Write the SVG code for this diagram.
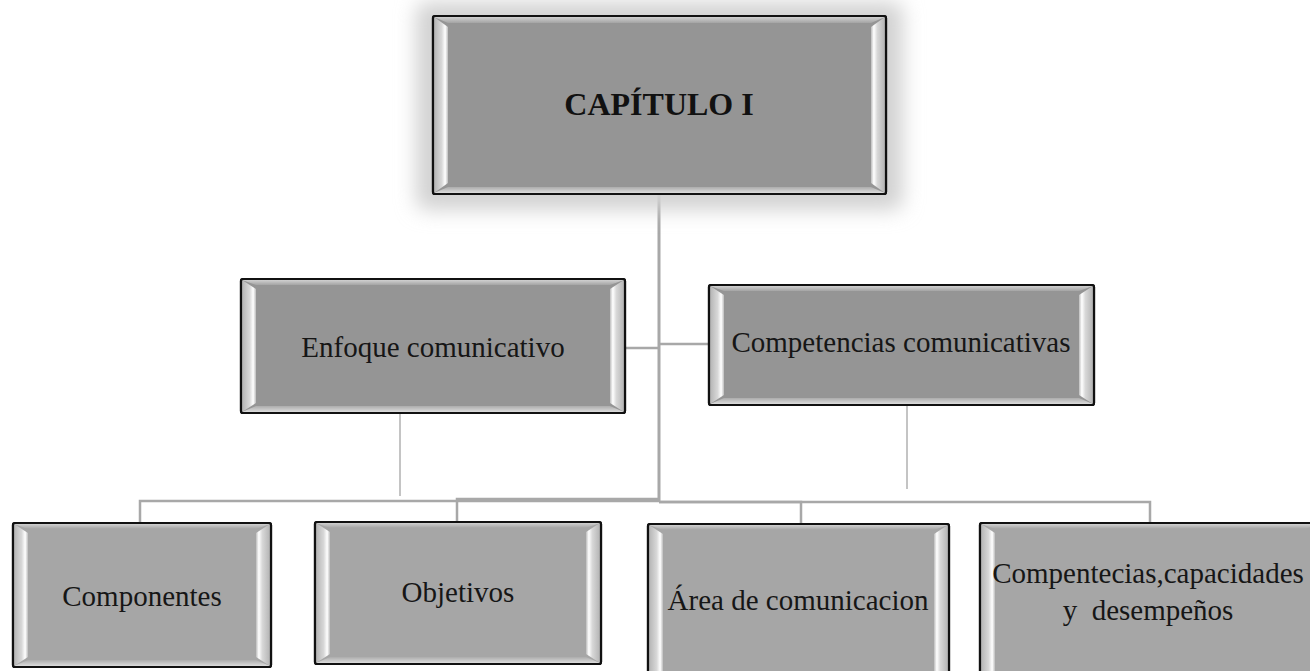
<svg xmlns="http://www.w3.org/2000/svg" width="1310" height="671" viewBox="0 0 1310 671">
<style>
.face{stroke:#111;stroke-width:2.2}
.dark{fill:#959595}
.light{fill:#a6a6a6}
.lbl{font-family:"Liberation Serif","Times New Roman",serif;font-size:29px;fill:#161616;text-anchor:middle;white-space:pre}
.title{font-family:"Liberation Serif","Times New Roman",serif;font-size:32px;font-weight:bold;fill:#111;text-anchor:middle}
.con{fill:none;stroke:#a8a8a8;stroke-width:2.5}
.thin{fill:none;stroke:#b0b0b0;stroke-width:1.5}
.trunk{fill:none;stroke:#a8a8a8;stroke-width:3}
</style>
<defs>
<linearGradient id="gl" x1="0" y1="0" x2="1" y2="0">
<stop offset="0" stop-color="#b4b4b4"/><stop offset="0.55" stop-color="#d8d8d8"/><stop offset="0.8" stop-color="#ffffff"/><stop offset="1" stop-color="#bcbcbc"/>
</linearGradient>
<linearGradient id="gr" x1="1" y1="0" x2="0" y2="0">
<stop offset="0" stop-color="#b4b4b4"/><stop offset="0.55" stop-color="#d8d8d8"/><stop offset="0.8" stop-color="#ffffff"/><stop offset="1" stop-color="#bcbcbc"/>
</linearGradient>
<linearGradient id="gt" x1="0" y1="0" x2="0" y2="1">
<stop offset="0" stop-color="#d0d0d0"/><stop offset="1" stop-color="#a4a4a4"/>
</linearGradient>
<linearGradient id="gb" x1="0" y1="0" x2="0" y2="1">
<stop offset="0" stop-color="#acacac"/><stop offset="1" stop-color="#dcdcdc"/>
</linearGradient>
<filter id="glow" x="-20%" y="-30%" width="140%" height="160%">
<feGaussianBlur stdDeviation="10"/>
</filter>
</defs>

<g id="connectors">
<path class="trunk" d="M659,194 V501"/>
<path class="con" d="M625,348 H659"/>
<path class="con" d="M659,344 H709"/>
<path class="thin" d="M400,413 V496"/>
<path class="thin" d="M907,405 V489"/>
<path class="con" d="M659,501 H140 V523"/>
<path class="con" d="M659,499 H457 V522"/>
<path class="con" d="M659,502 H801 V524"/>
<path class="con" d="M659,502 H1150 V523"/>
</g>

<g id="node-capitulo">
<rect x="416" y="2" width="487" height="208" rx="10" fill="#d2d2d2" filter="url(#glow)"/>
<rect class="face dark" x="433" y="16" width="453" height="178" rx="2"/>
<polygon points="434,17 448,27 448,183 434,193" fill="url(#gl)"/>
<polygon points="885,17 871,27 871,183 885,193" fill="url(#gr)"/>
<polygon points="434,17 885,17 871,23 448,23" fill="url(#gt)"/>
<polygon points="434,193 885,193 871,187 448,187" fill="url(#gb)"/>
<rect x="433" y="16" width="453" height="178" rx="2" fill="none" stroke="#111" stroke-width="2.2"/>
<text class="title" x="659" y="115">CAPÍTULO I</text>
</g>

<g id="node-enfoque">
<rect class="face dark" x="241" y="279" width="384" height="134" rx="2"/>
<polygon points="242,280 256,289 256,403 242,412" fill="url(#gl)"/>
<polygon points="624,280 610,289 610,403 624,412" fill="url(#gr)"/>
<polygon points="242,280 624,280 610,285 256,285" fill="url(#gt)"/>
<polygon points="242,412 624,412 610,406 256,406" fill="url(#gb)"/>
<rect x="241" y="279" width="384" height="134" rx="2" fill="none" stroke="#111" stroke-width="2.2"/>
<text class="lbl" x="433" y="357">Enfoque comunicativo</text>
</g>

<g id="node-competencias">
<rect class="face dark" x="709" y="285" width="385" height="120" rx="2"/>
<polygon points="710,286 724,295 724,395 710,404" fill="url(#gl)"/>
<polygon points="1093,286 1079,295 1079,395 1093,404" fill="url(#gr)"/>
<polygon points="710,286 1093,286 1079,291 724,291" fill="url(#gt)"/>
<polygon points="710,404 1093,404 1079,398 724,398" fill="url(#gb)"/>
<rect x="709" y="285" width="385" height="120" rx="2" fill="none" stroke="#111" stroke-width="2.2"/>
<text class="lbl" x="901" y="352">Competencias comunicativas</text>
</g>

<g id="node-componentes">
<rect class="face light" x="13" y="523" width="258" height="144" rx="2"/>
<polygon points="14,524 28,533 28,657 14,666" fill="url(#gl)"/>
<polygon points="270,524 256,533 256,657 270,666" fill="url(#gr)"/>
<polygon points="14,524 270,524 256,529 28,529" fill="url(#gt)"/>
<polygon points="14,666 270,666 256,660 28,660" fill="url(#gb)"/>
<rect x="13" y="523" width="258" height="144" rx="2" fill="none" stroke="#111" stroke-width="2.2"/>
<text class="lbl" x="142" y="606">Componentes</text>
</g>

<g id="node-objetivos">
<rect class="face light" x="315" y="522" width="286" height="142" rx="2"/>
<polygon points="316,523 330,532 330,654 316,663" fill="url(#gl)"/>
<polygon points="600,523 586,532 586,654 600,663" fill="url(#gr)"/>
<polygon points="316,523 600,523 586,528 330,528" fill="url(#gt)"/>
<polygon points="316,663 600,663 586,657 330,657" fill="url(#gb)"/>
<rect x="315" y="522" width="286" height="142" rx="2" fill="none" stroke="#111" stroke-width="2.2"/>
<text class="lbl" x="458" y="602">Objetivos</text>
</g>

<g id="node-area">
<rect class="face light" x="648" y="524" width="301" height="170" rx="2"/>
<polygon points="649,525 663,534 663,684 649,693" fill="url(#gl)"/>
<polygon points="948,525 934,534 934,684 948,693" fill="url(#gr)"/>
<polygon points="649,525 948,525 934,530 663,530" fill="url(#gt)"/>
<rect x="648" y="524" width="301" height="170" rx="2" fill="none" stroke="#111" stroke-width="2.2"/>
<text class="lbl" x="798" y="610">Área de comunicacion</text>
</g>

<g id="node-compentecias">
<rect class="face light" x="980" y="523" width="340" height="170" rx="2"/>
<polygon points="981,524 995,533 995,683 981,692" fill="url(#gl)"/>
<polygon points="981,524 1319,524 1305,529 995,529" fill="url(#gt)"/>
<rect x="980" y="523" width="340" height="170" rx="2" fill="none" stroke="#111" stroke-width="2.2"/>
<text class="lbl" x="1148" y="583">Compentecias,capacidades</text>
<text class="lbl" x="1148" y="620">y  desempeños</text>
</g>
</svg>
